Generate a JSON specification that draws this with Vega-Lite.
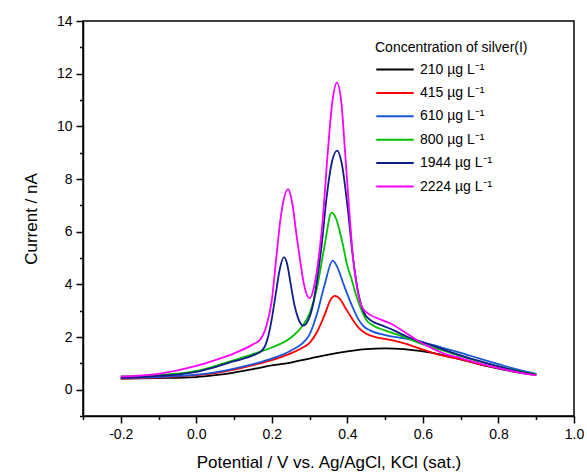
{
  "$schema": "https://vega.github.io/schema/vega-lite/v6.json",
  "width": 491,
  "height": 395,
  "autosize": {"type": "none"},
  "padding": {"left": 83, "top": 21, "right": 13, "bottom": 60},
  "config": {
    "view": {"stroke": "#000000", "strokeWidth": 1.5},
    "font": "Liberation Sans"
  },
  "data": {
    "values": [
      {"c": "210 µg L⁻¹", "x": -0.2, "y": 0.42},
      {"c": "210 µg L⁻¹", "x": -0.1, "y": 0.44},
      {"c": "210 µg L⁻¹", "x": 0.0, "y": 0.48},
      {"c": "210 µg L⁻¹", "x": 0.05, "y": 0.55},
      {"c": "210 µg L⁻¹", "x": 0.1, "y": 0.65},
      {"c": "210 µg L⁻¹", "x": 0.15, "y": 0.78},
      {"c": "210 µg L⁻¹", "x": 0.2, "y": 0.92},
      {"c": "210 µg L⁻¹", "x": 0.25, "y": 1.03},
      {"c": "210 µg L⁻¹", "x": 0.3, "y": 1.18},
      {"c": "210 µg L⁻¹", "x": 0.35, "y": 1.33},
      {"c": "210 µg L⁻¹", "x": 0.4, "y": 1.45},
      {"c": "210 µg L⁻¹", "x": 0.45, "y": 1.54},
      {"c": "210 µg L⁻¹", "x": 0.5, "y": 1.57},
      {"c": "210 µg L⁻¹", "x": 0.55, "y": 1.54},
      {"c": "210 µg L⁻¹", "x": 0.6, "y": 1.45},
      {"c": "210 µg L⁻¹", "x": 0.65, "y": 1.32},
      {"c": "210 µg L⁻¹", "x": 0.7, "y": 1.15},
      {"c": "210 µg L⁻¹", "x": 0.75, "y": 0.96},
      {"c": "210 µg L⁻¹", "x": 0.8, "y": 0.8},
      {"c": "210 µg L⁻¹", "x": 0.85, "y": 0.66},
      {"c": "210 µg L⁻¹", "x": 0.9, "y": 0.56},

      {"c": "415 µg L⁻¹", "x": -0.2, "y": 0.42},
      {"c": "415 µg L⁻¹", "x": -0.1, "y": 0.46},
      {"c": "415 µg L⁻¹", "x": 0.0, "y": 0.55},
      {"c": "415 µg L⁻¹", "x": 0.05, "y": 0.63},
      {"c": "415 µg L⁻¹", "x": 0.1, "y": 0.76},
      {"c": "415 µg L⁻¹", "x": 0.15, "y": 0.93},
      {"c": "415 µg L⁻¹", "x": 0.2, "y": 1.12},
      {"c": "415 µg L⁻¹", "x": 0.25, "y": 1.38},
      {"c": "415 µg L⁻¹", "x": 0.28, "y": 1.58},
      {"c": "415 µg L⁻¹", "x": 0.3, "y": 1.78},
      {"c": "415 µg L⁻¹", "x": 0.32, "y": 2.2},
      {"c": "415 µg L⁻¹", "x": 0.34, "y": 2.85},
      {"c": "415 µg L⁻¹", "x": 0.355, "y": 3.4},
      {"c": "415 µg L⁻¹", "x": 0.367, "y": 3.56},
      {"c": "415 µg L⁻¹", "x": 0.38, "y": 3.45},
      {"c": "415 µg L⁻¹", "x": 0.395, "y": 3.1},
      {"c": "415 µg L⁻¹", "x": 0.41, "y": 2.75},
      {"c": "415 µg L⁻¹", "x": 0.43, "y": 2.35},
      {"c": "415 µg L⁻¹", "x": 0.45, "y": 2.12},
      {"c": "415 µg L⁻¹", "x": 0.48, "y": 1.98},
      {"c": "415 µg L⁻¹", "x": 0.52, "y": 1.87},
      {"c": "415 µg L⁻¹", "x": 0.56, "y": 1.72},
      {"c": "415 µg L⁻¹", "x": 0.6, "y": 1.52},
      {"c": "415 µg L⁻¹", "x": 0.65, "y": 1.3},
      {"c": "415 µg L⁻¹", "x": 0.7, "y": 1.15},
      {"c": "415 µg L⁻¹", "x": 0.75, "y": 0.97},
      {"c": "415 µg L⁻¹", "x": 0.8, "y": 0.82},
      {"c": "415 µg L⁻¹", "x": 0.85, "y": 0.68},
      {"c": "415 µg L⁻¹", "x": 0.9, "y": 0.57},

      {"c": "610 µg L⁻¹", "x": -0.2, "y": 0.45},
      {"c": "610 µg L⁻¹", "x": -0.1, "y": 0.48},
      {"c": "610 µg L⁻¹", "x": 0.0, "y": 0.57},
      {"c": "610 µg L⁻¹", "x": 0.05, "y": 0.66},
      {"c": "610 µg L⁻¹", "x": 0.1, "y": 0.8},
      {"c": "610 µg L⁻¹", "x": 0.15, "y": 0.97},
      {"c": "610 µg L⁻¹", "x": 0.2, "y": 1.18},
      {"c": "610 µg L⁻¹", "x": 0.25, "y": 1.48},
      {"c": "610 µg L⁻¹", "x": 0.28, "y": 1.75},
      {"c": "610 µg L⁻¹", "x": 0.3, "y": 2.1},
      {"c": "610 µg L⁻¹", "x": 0.32, "y": 2.9},
      {"c": "610 µg L⁻¹", "x": 0.34, "y": 4.0},
      {"c": "610 µg L⁻¹", "x": 0.361, "y": 4.9},
      {"c": "610 µg L⁻¹", "x": 0.375, "y": 4.6},
      {"c": "610 µg L⁻¹", "x": 0.39, "y": 4.0},
      {"c": "610 µg L⁻¹", "x": 0.4, "y": 3.62},
      {"c": "610 µg L⁻¹", "x": 0.415, "y": 3.1},
      {"c": "610 µg L⁻¹", "x": 0.43, "y": 2.65},
      {"c": "610 µg L⁻¹", "x": 0.445, "y": 2.38},
      {"c": "610 µg L⁻¹", "x": 0.46, "y": 2.25},
      {"c": "610 µg L⁻¹", "x": 0.5, "y": 2.07},
      {"c": "610 µg L⁻¹", "x": 0.55, "y": 1.95},
      {"c": "610 µg L⁻¹", "x": 0.6, "y": 1.8},
      {"c": "610 µg L⁻¹", "x": 0.65, "y": 1.6},
      {"c": "610 µg L⁻¹", "x": 0.7, "y": 1.4},
      {"c": "610 µg L⁻¹", "x": 0.75, "y": 1.18},
      {"c": "610 µg L⁻¹", "x": 0.8, "y": 0.97},
      {"c": "610 µg L⁻¹", "x": 0.85, "y": 0.77},
      {"c": "610 µg L⁻¹", "x": 0.9, "y": 0.6},

      {"c": "800 µg L⁻¹", "x": -0.2, "y": 0.5},
      {"c": "800 µg L⁻¹", "x": -0.1, "y": 0.55},
      {"c": "800 µg L⁻¹", "x": 0.0, "y": 0.71},
      {"c": "800 µg L⁻¹", "x": 0.05, "y": 0.9},
      {"c": "800 µg L⁻¹", "x": 0.1, "y": 1.12},
      {"c": "800 µg L⁻¹", "x": 0.15, "y": 1.35},
      {"c": "800 µg L⁻¹", "x": 0.2, "y": 1.6},
      {"c": "800 µg L⁻¹", "x": 0.25, "y": 1.97},
      {"c": "800 µg L⁻¹", "x": 0.28, "y": 2.4},
      {"c": "800 µg L⁻¹", "x": 0.3, "y": 2.9},
      {"c": "800 µg L⁻¹", "x": 0.32, "y": 3.9},
      {"c": "800 µg L⁻¹", "x": 0.34, "y": 5.5},
      {"c": "800 µg L⁻¹", "x": 0.358, "y": 6.72},
      {"c": "800 µg L⁻¹", "x": 0.37, "y": 6.5},
      {"c": "800 µg L⁻¹", "x": 0.385, "y": 5.7},
      {"c": "800 µg L⁻¹", "x": 0.4, "y": 4.7},
      {"c": "800 µg L⁻¹", "x": 0.411, "y": 4.2},
      {"c": "800 µg L⁻¹", "x": 0.425, "y": 3.5},
      {"c": "800 µg L⁻¹", "x": 0.438, "y": 3.0},
      {"c": "800 µg L⁻¹", "x": 0.45, "y": 2.65},
      {"c": "800 µg L⁻¹", "x": 0.47, "y": 2.42},
      {"c": "800 µg L⁻¹", "x": 0.5, "y": 2.25},
      {"c": "800 µg L⁻¹", "x": 0.55, "y": 2.0},
      {"c": "800 µg L⁻¹", "x": 0.6, "y": 1.72},
      {"c": "800 µg L⁻¹", "x": 0.65, "y": 1.5},
      {"c": "800 µg L⁻¹", "x": 0.7, "y": 1.27},
      {"c": "800 µg L⁻¹", "x": 0.75, "y": 1.07},
      {"c": "800 µg L⁻¹", "x": 0.8, "y": 0.88},
      {"c": "800 µg L⁻¹", "x": 0.85, "y": 0.72},
      {"c": "800 µg L⁻¹", "x": 0.9, "y": 0.58},

      {"c": "1944 µg L⁻¹", "x": -0.2, "y": 0.45},
      {"c": "1944 µg L⁻¹", "x": -0.1, "y": 0.52},
      {"c": "1944 µg L⁻¹", "x": 0.0, "y": 0.68},
      {"c": "1944 µg L⁻¹", "x": 0.05, "y": 0.86},
      {"c": "1944 µg L⁻¹", "x": 0.1, "y": 1.08},
      {"c": "1944 µg L⁻¹", "x": 0.15, "y": 1.3},
      {"c": "1944 µg L⁻¹", "x": 0.175, "y": 1.5},
      {"c": "1944 µg L⁻¹", "x": 0.19, "y": 2.0},
      {"c": "1944 µg L⁻¹", "x": 0.2, "y": 2.7},
      {"c": "1944 µg L⁻¹", "x": 0.21, "y": 3.6},
      {"c": "1944 µg L⁻¹", "x": 0.22, "y": 4.5},
      {"c": "1944 µg L⁻¹", "x": 0.232, "y": 5.03},
      {"c": "1944 µg L⁻¹", "x": 0.24, "y": 4.8},
      {"c": "1944 µg L⁻¹", "x": 0.25, "y": 4.0},
      {"c": "1944 µg L⁻¹", "x": 0.26, "y": 3.2},
      {"c": "1944 µg L⁻¹", "x": 0.27, "y": 2.7},
      {"c": "1944 µg L⁻¹", "x": 0.283, "y": 2.43},
      {"c": "1944 µg L⁻¹", "x": 0.295, "y": 2.6},
      {"c": "1944 µg L⁻¹", "x": 0.31, "y": 3.3},
      {"c": "1944 µg L⁻¹", "x": 0.32, "y": 4.2},
      {"c": "1944 µg L⁻¹", "x": 0.332, "y": 5.5},
      {"c": "1944 µg L⁻¹", "x": 0.345, "y": 7.3},
      {"c": "1944 µg L⁻¹", "x": 0.36, "y": 8.7},
      {"c": "1944 µg L⁻¹", "x": 0.373, "y": 9.08},
      {"c": "1944 µg L⁻¹", "x": 0.385, "y": 8.6},
      {"c": "1944 µg L⁻¹", "x": 0.4, "y": 7.0},
      {"c": "1944 µg L⁻¹", "x": 0.415, "y": 5.0},
      {"c": "1944 µg L⁻¹", "x": 0.43, "y": 3.6},
      {"c": "1944 µg L⁻¹", "x": 0.445, "y": 2.9},
      {"c": "1944 µg L⁻¹", "x": 0.46, "y": 2.65},
      {"c": "1944 µg L⁻¹", "x": 0.49, "y": 2.45},
      {"c": "1944 µg L⁻¹", "x": 0.52, "y": 2.27},
      {"c": "1944 µg L⁻¹", "x": 0.56, "y": 2.0},
      {"c": "1944 µg L⁻¹", "x": 0.6, "y": 1.8},
      {"c": "1944 µg L⁻¹", "x": 0.65, "y": 1.55},
      {"c": "1944 µg L⁻¹", "x": 0.7, "y": 1.3},
      {"c": "1944 µg L⁻¹", "x": 0.75, "y": 1.08},
      {"c": "1944 µg L⁻¹", "x": 0.8, "y": 0.88},
      {"c": "1944 µg L⁻¹", "x": 0.85, "y": 0.7},
      {"c": "1944 µg L⁻¹", "x": 0.9, "y": 0.56},

      {"c": "2224 µg L⁻¹", "x": -0.2, "y": 0.5},
      {"c": "2224 µg L⁻¹", "x": -0.1, "y": 0.6},
      {"c": "2224 µg L⁻¹", "x": 0.0, "y": 0.9},
      {"c": "2224 µg L⁻¹", "x": 0.05, "y": 1.12},
      {"c": "2224 µg L⁻¹", "x": 0.1, "y": 1.38},
      {"c": "2224 µg L⁻¹", "x": 0.15, "y": 1.72},
      {"c": "2224 µg L⁻¹", "x": 0.17, "y": 1.92},
      {"c": "2224 µg L⁻¹", "x": 0.185, "y": 2.4},
      {"c": "2224 µg L⁻¹", "x": 0.2, "y": 3.4},
      {"c": "2224 µg L⁻¹", "x": 0.211, "y": 4.9},
      {"c": "2224 µg L⁻¹", "x": 0.225, "y": 6.7},
      {"c": "2224 µg L⁻¹", "x": 0.243, "y": 7.61},
      {"c": "2224 µg L⁻¹", "x": 0.255, "y": 7.0},
      {"c": "2224 µg L⁻¹", "x": 0.265, "y": 5.9},
      {"c": "2224 µg L⁻¹", "x": 0.275, "y": 4.9},
      {"c": "2224 µg L⁻¹", "x": 0.285, "y": 4.0},
      {"c": "2224 µg L⁻¹", "x": 0.3, "y": 3.47},
      {"c": "2224 µg L⁻¹", "x": 0.31, "y": 3.8},
      {"c": "2224 µg L⁻¹", "x": 0.318, "y": 4.4},
      {"c": "2224 µg L⁻¹", "x": 0.335, "y": 6.5},
      {"c": "2224 µg L⁻¹", "x": 0.348, "y": 9.0},
      {"c": "2224 µg L⁻¹", "x": 0.36, "y": 10.9},
      {"c": "2224 µg L⁻¹", "x": 0.372, "y": 11.66},
      {"c": "2224 µg L⁻¹", "x": 0.384, "y": 10.9},
      {"c": "2224 µg L⁻¹", "x": 0.394, "y": 9.0},
      {"c": "2224 µg L⁻¹", "x": 0.405, "y": 6.8},
      {"c": "2224 µg L⁻¹", "x": 0.415, "y": 5.0},
      {"c": "2224 µg L⁻¹", "x": 0.425, "y": 3.9},
      {"c": "2224 µg L⁻¹", "x": 0.44, "y": 3.1},
      {"c": "2224 µg L⁻¹", "x": 0.46, "y": 2.85},
      {"c": "2224 µg L⁻¹", "x": 0.49, "y": 2.65},
      {"c": "2224 µg L⁻¹", "x": 0.513, "y": 2.52},
      {"c": "2224 µg L⁻¹", "x": 0.55, "y": 2.2},
      {"c": "2224 µg L⁻¹", "x": 0.583, "y": 1.89},
      {"c": "2224 µg L⁻¹", "x": 0.62, "y": 1.6},
      {"c": "2224 µg L⁻¹", "x": 0.66, "y": 1.35},
      {"c": "2224 µg L⁻¹", "x": 0.7, "y": 1.2},
      {"c": "2224 µg L⁻¹", "x": 0.75, "y": 1.0},
      {"c": "2224 µg L⁻¹", "x": 0.8, "y": 0.82},
      {"c": "2224 µg L⁻¹", "x": 0.85, "y": 0.67},
      {"c": "2224 µg L⁻¹", "x": 0.9, "y": 0.55}
    ]
  },
  "mark": {"type": "line", "strokeWidth": 1.8, "interpolate": "monotone"},
  "encoding": {
    "x": {
      "field": "x",
      "type": "quantitative",
      "scale": {"domain": [-0.3, 1.0], "nice": false, "zero": false},
      "axis": {
        "values": [-0.3, -0.2, -0.1, 0, 0.1, 0.2, 0.3, 0.4, 0.5, 0.6, 0.7, 0.8, 0.9, 1.0],
        "labelExpr": "abs(round(datum.value*10)) % 2 == 1 ? '' : replace(format(datum.value, '.1f'), '−', '-')",
        "tickSize": {"condition": {"test": "abs(round(datum.value*10)) % 2 == 1", "value": 3.5}, "value": 7},
        "title": "Potential / V vs. Ag/AgCl, KCl (sat.)",
        "grid": false,
        "domainColor": "#000000",
        "domainWidth": 1.5,
        "tickColor": "#000000",
        "tickWidth": 1.5,
        "labelFontSize": 14,
        "labelColor": "#000000",
        "labelPadding": 4,
        "labelFlush": false,
        "labelOverlap": false,
        "titleFontSize": 17,
        "titleFontWeight": "normal",
        "titleColor": "#000000",
        "titlePadding": 13
      }
    },
    "y": {
      "field": "y",
      "type": "quantitative",
      "scale": {"domain": [-1, 14], "nice": false, "zero": false},
      "axis": {
        "values": [-1, 0, 1, 2, 3, 4, 5, 6, 7, 8, 9, 10, 11, 12, 13, 14],
        "labelExpr": "abs(datum.value) % 2 == 1 ? '' : format(datum.value, 'd')",
        "tickSize": {"condition": {"test": "abs(datum.value) % 2 == 1", "value": 3.5}, "value": 7},
        "title": "Current / nA",
        "grid": false,
        "domainColor": "#000000",
        "domainWidth": 1.5,
        "tickColor": "#000000",
        "tickWidth": 1.5,
        "labelFontSize": 14,
        "labelColor": "#000000",
        "labelPadding": 4,
        "labelFlush": false,
        "labelOverlap": false,
        "titleFontSize": 17,
        "titleFontWeight": "normal",
        "titleColor": "#000000",
        "titlePadding": 16
      }
    },
    "color": {
      "field": "c",
      "type": "nominal",
      "scale": {
        "domain": ["210 µg L⁻¹", "415 µg L⁻¹", "610 µg L⁻¹", "800 µg L⁻¹", "1944 µg L⁻¹", "2224 µg L⁻¹"],
        "range": ["#000000", "#ff0000", "#1a56db", "#00c000", "#0f1d87", "#ff00ff"]
      },
      "legend": {
        "orient": "none",
        "legendX": 292,
        "legendY": 20,
        "title": "Concentration of silver(I)",
        "titleFontSize": 14,
        "titleFontWeight": "normal",
        "titleColor": "#000000",
        "titlePadding": 4,
        "labelFontSize": 14,
        "labelColor": "#000000",
        "labelOffset": 5,
        "symbolType": "stroke",
        "symbolSize": 1400,
        "symbolStrokeWidth": 2,
        "clipHeight": 21,
        "rowPadding": 2.4
      }
    }
  }
}
